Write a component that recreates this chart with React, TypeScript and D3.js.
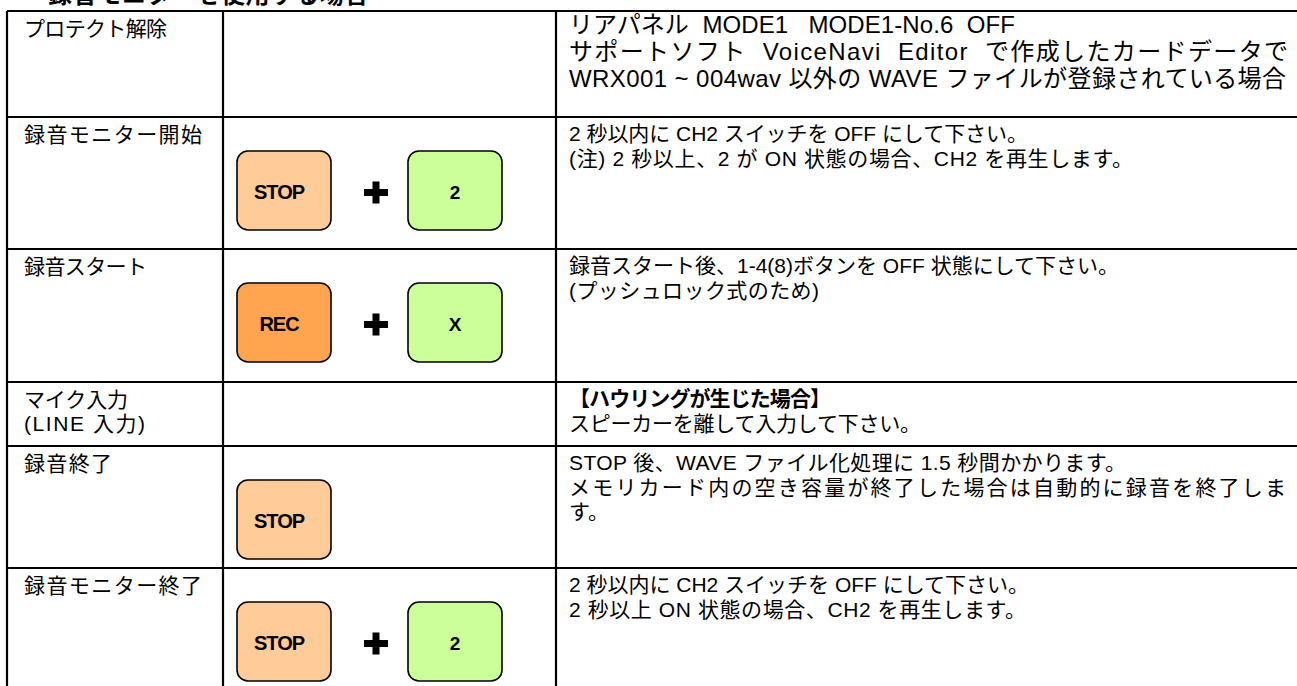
import React, { useEffect, useRef } from 'react';
import * as d3 from 'd3';

// Table content
const TITLE = '録音モニターを使用する場合';

const STEP_LABELS: string[][] = [
  ['プロテクト解除'],
  ['録音モニター開始'],
  ['録音スタート'],
  ['マイク入力', '(LINE 入力)'],
  ['録音終了'],
  ['録音モニター終了'],
];

const STEP_KEYS: string[][] = [
  [],
  ['STOP', '2'],
  ['REC', 'X'],
  [],
  ['STOP'],
  ['STOP', '2'],
];

const STEP_NOTES: string[][] = [
  [
    'リアパネル  MODE1   MODE1-No.6  OFF',
    'サポートソフト  VoiceNavi  Editor  で作成したカードデータで',
    'WRX001 ~ 004wav 以外の WAVE ファイルが登録されている場合',
  ],
  ['2 秒以内に CH2 スイッチを OFF にして下さい。', '(注) 2 秒以上、2 が ON 状態の場合、CH2 を再生します。'],
  ['録音スタート後、1-4(8)ボタンを OFF 状態にして下さい。', '(プッシュロック式のため)'],
  ['【ハウリングが生じた場合】', 'スピーカーを離して入力して下さい。'],
  [
    'STOP 後、WAVE ファイル化処理に 1.5 秒間かかります。',
    'メモリカード内の空き容量が終了した場合は自動的に録音を終了しま',
    'す。',
  ],
  ['2 秒以内に CH2 スイッチを OFF にして下さい。', '2 秒以上 ON 状態の場合、CH2 を再生します。'],
];

const BOLD_NOTES = new Set(['【ハウリングが生じた場合】']);

// layout (page pixels)
const W = 1297;
const H = 686;
const COL_X = [7, 223, 556, 1302];
const ROW_Y = [11, 117, 249, 382, 446, 568, 702];
// right end of each text line as laid out in the source document
const LABEL_END = [[167], [202], [147], [128, 145], [112], [202]];
const NOTE_END = [[1015, 1288, 1286], [1028, 1133], [1119, 819], [831, 921], [1126, 1286, 0], [1029, 1026]];

const KEY_FILL: Record<string, string> = {
  STOP: '#ffcc99',
  REC: '#ffa54f',
  '2': '#ccff99',
  X: '#ccff99',
};

const FONT = "'Liberation Sans Narrow', 'Liberation Sans', Arial, 'Noto Sans CJK JP', sans-serif";
const KEY_FONT = "'Liberation Sans', Arial, sans-serif";

const App: React.FC = () => {
  const svgRef = useRef<SVGSVGElement>(null);

  useEffect(() => {
    if (!svgRef.current) return;
    const svg = d3.select(svgRef.current);
    svg.selectAll('*').remove();

    svg.append('rect').attr('width', W).attr('height', H).style('fill', '#fff');

    // Section title (top half cut off by the page edge)
    svg.append('text')
      .attr('x', 48)
      .attr('y', 3)
      .style('font-family', FONT)
      .style('font-size', '24px')
      .style('font-weight', 'bold')
      .style('letter-spacing', '0.7px')
      .style('fill', '#000')
      .text(TITLE);

    const rows = d3.range(STEP_LABELS.length);

    const row = svg.selectAll('.step')
      .data(rows)
      .enter().append('g')
      .attr('class', 'step');

    row.each(function (r) {
      const g = d3.select(this);
      const top = ROW_Y[r];
      const labelX = COL_X[0] + 17;
      const noteX = COL_X[2] + 13;

      // step name
      g.selectAll('.label')
        .data(STEP_LABELS[r])
        .enter().append('text')
        .attr('class', 'label')
        .attr('x', labelX)
        .attr('y', (_, i) => top + 25 + i * 24)
        .attr('textLength', (_, i) => LABEL_END[r][i] - labelX)
        .attr('lengthAdjust', 'spacing')
        .style('font-family', FONT)
        .style('font-size', '21px')
        .style('white-space', 'pre')
        .style('fill', '#000')
        .text(d => d);

      // remarks
      const big = r === 0;
      g.selectAll('.note')
        .data(STEP_NOTES[r])
        .enter().append('text')
        .attr('class', 'note')
        .attr('x', noteX)
        .attr('y', (_, i) => big ? top + 22 + i * 27 : top + 24 + i * 24.5)
        .attr('textLength', (_, i) => NOTE_END[r][i] ? NOTE_END[r][i] - noteX : null)
        .attr('lengthAdjust', 'spacing')
        .style('font-family', FONT)
        .style('font-size', big ? '24px' : '21px')
        .style('font-weight', d => BOLD_NOTES.has(d) ? 'bold' : 'normal')
        .style('white-space', 'pre')
        .style('fill', '#000')
        .text(d => d);

      // key combination buttons
      const keys = STEP_KEYS[r];
      const bw = 94;
      const bh = 79;
      const by = top + 34;
      const keyX = (k: number) => COL_X[1] + 14 + k * 171;

      const key = g.selectAll('.key')
        .data(keys)
        .enter().append('g')
        .attr('class', 'key')
        .attr('transform', (_, k) => `translate(${keyX(k)},${by})`);

      key.append('rect')
        .attr('width', bw)
        .attr('height', bh)
        .attr('rx', 11)
        .style('fill', d => KEY_FILL[d])
        .style('stroke', '#000')
        .style('stroke-width', 1.6);

      key.append('text')
        .attr('x', d => d.length > 1 ? bw / 2 - 5 : bw / 2)
        .attr('y', bh / 2 + 8)
        .attr('text-anchor', 'middle')
        .style('font-family', KEY_FONT)
        .style('font-size', d => d.length > 1 ? '20px' : '19px')
        .style('font-weight', 'bold')
        .style('letter-spacing', d => d.length > 1 ? '-1px' : '0')
        .style('fill', '#000')
        .text(d => d);

      if (keys.length > 1) {
        const cx = keyX(0) + bw + 45;
        const cy = by + bh / 2 + 2;
        g.append('rect').attr('x', cx - 12).attr('y', cy - 3.5).attr('width', 24).attr('height', 7).style('fill', '#000');
        g.append('rect').attr('x', cx - 3.5).attr('y', cy - 11).attr('width', 7).attr('height', 22).style('fill', '#000');
      }
    });

    // grid lines
    const grid = svg.append('g').style('stroke', '#000').style('stroke-width', 2.2);
    grid.selectAll('.h')
      .data(ROW_Y)
      .enter().append('line')
      .attr('x1', COL_X[0])
      .attr('x2', COL_X[3])
      .attr('y1', d => d)
      .attr('y2', d => d);
    grid.selectAll('.v')
      .data(COL_X)
      .enter().append('line')
      .attr('x1', d => d)
      .attr('x2', d => d)
      .attr('y1', ROW_Y[0])
      .attr('y2', ROW_Y[ROW_Y.length - 1]);
  }, []);

  return (
    <div style={{ position: 'absolute', left: 0, top: 0, width: W, height: H, background: '#fff' }}>
      <svg ref={svgRef} width={W} height={H} style={{ display: 'block' }}></svg>
    </div>
  );
};

export default App;
